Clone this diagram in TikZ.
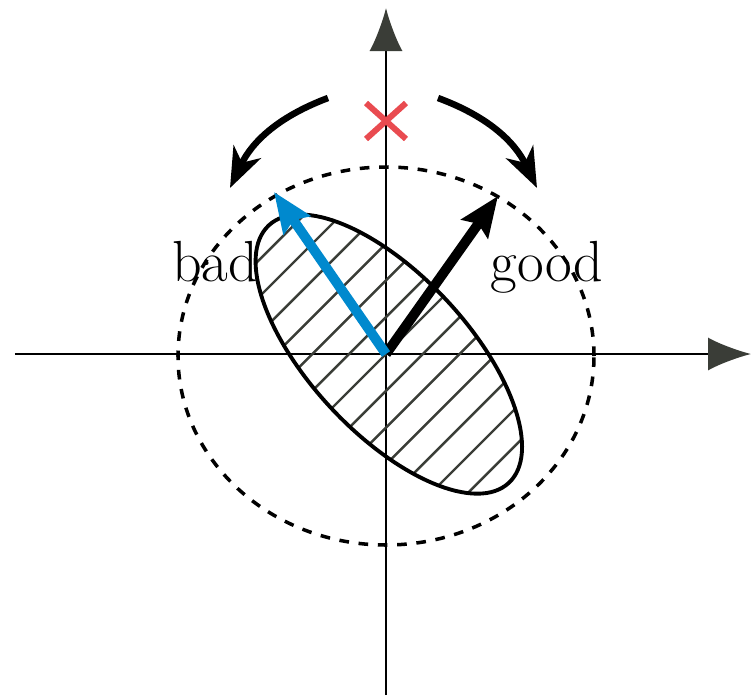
\documentclass[tikz,border=0pt]{standalone}
\usetikzlibrary{arrows.meta,shapes.misc,calc}

\definecolor{vecblue}{RGB}{0,137,206}
\definecolor{xred}{RGB}{233,75,80}
\definecolor{darkgray}{RGB}{58,61,55}

\begin{document}
\begin{tikzpicture}[
  axisline/.style={line width=1.1pt, -{Latex[length=8.6mm, width=6.6mm, color=darkgray]}},
  hatch/.style={line width=1.4pt, darkgray},
  region/.style={line width=2.2pt},
  bound/.style={line width=2pt, dash pattern=on 5.5pt off 5.5pt},
  vec/.style={line width=5.6pt, -{Stealth[length=8mm, width=6.4mm, inset=1.2mm]}},
  turn/.style={line width=3.7pt, -{Stealth[length=8mm, width=6mm, inset=2.4mm]}},
  lbl/.style={font=\fontsize{33}{40}\selectfont, inner sep=0pt, anchor=base},
]
\useasboundingbox (-7.72,-6.82) rectangle (7.32,7.08);

% === AXES ===
\coordinate (O) at (0,0);
\coordinate (xl) at (-7.42,0);
\coordinate (xr) at (7.30,0);
\coordinate (yb) at (0,-6.82);
\coordinate (yt) at (0,6.92);
\draw[axisline] (xl) -- (xr);
\draw[axisline] (yb) -- (yt);

% === HATCHED REGION ===
\begin{scope}
  \clip[rotate=-47] (0.04,0.04) ellipse (3.52 and 1.58);
  \foreach \k in {-12,...,12}
    \draw[hatch] ($(\k*0.368,-\k*0.368)+(-5,-5)$) -- ++(10,10);
\end{scope}
\draw[region, rotate=-47] (0.04,0.04) ellipse (3.52 and 1.58);

% === LABELS AND BOUND ===
\node[lbl] (bad) at (-3.42,1.45) {bad};
\node[lbl] (good) at (3.22,1.45) {good};
\draw[bound] (0,-0.04) ellipse (4.16 and 3.78);

% === VECTORS ===
\coordinate (badtip) at (-2.24,3.24);
\coordinate (goodtip) at (2.24,3.16);
\draw[vec] (O) -- (goodtip);
\draw[vec, vecblue] (O) -- (badtip);

% === ROTATIONS ===
\node[cross out, draw=xred, line width=3.4pt, minimum width=6.8mm, minimum height=6mm, inner sep=0pt] (reject) at (0,4.66) {};
\coordinate (lstart) at (-1.16,5.12);
\coordinate (lend) at (-3.12,3.32);
\coordinate (rstart) at (1.04,5.12);
\coordinate (rend) at (3.02,3.32);
\draw[turn] (lstart) to[bend right=22] (lend);
\draw[turn] (rstart) to[bend left=22] (rend);
\end{tikzpicture}
\end{document}
